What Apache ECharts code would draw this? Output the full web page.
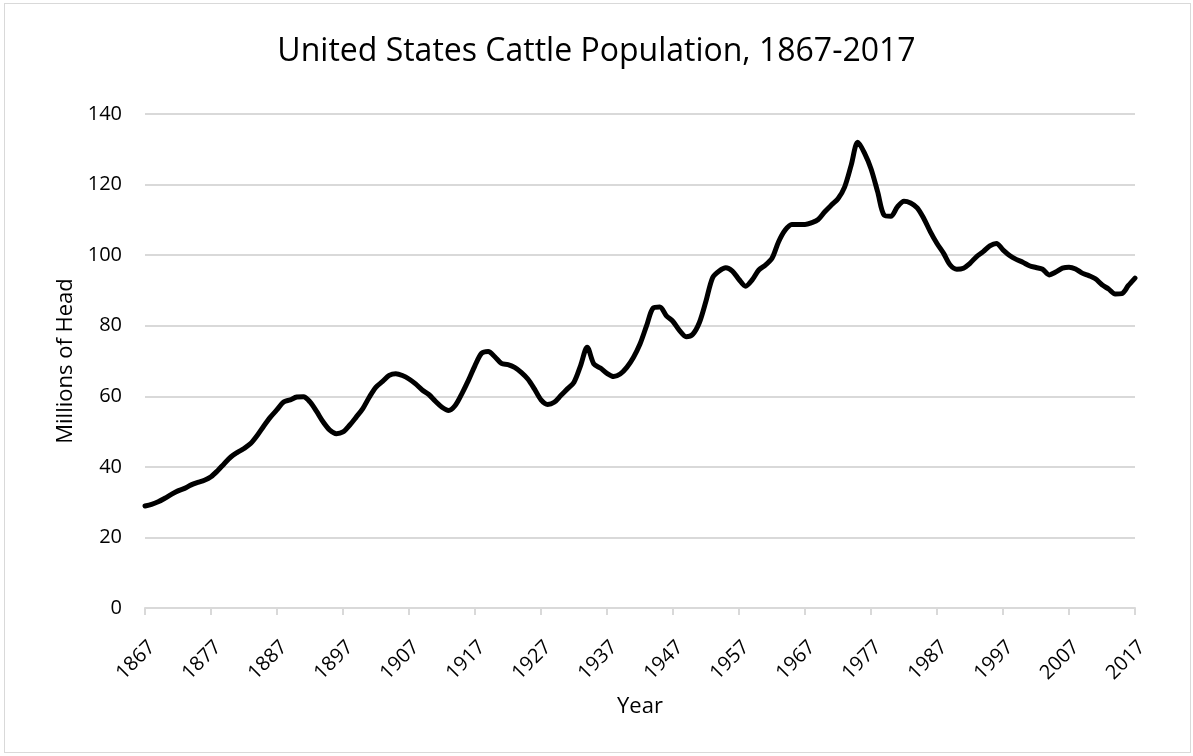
<!DOCTYPE html>
<html>
<head>
<meta charset="utf-8">
<script src="https://cdn.jsdelivr.net/npm/echarts@6/dist/echarts.min.js"></script>
<style>
  html, body { margin: 0; padding: 0; background: #fff; }
  .cattle-box {
    position: absolute;
    left: 4px;
    top: 3px;
    width: 1185px;
    height: 748px;
    border: 1px solid #d9d9d9;
  }
  .cattle-chart {
    position: absolute;
    left: 0;
    top: 0;
    width: 1193px;
    height: 756px;
  }
</style>
</head>
<body>
<div class="cattle-box"></div>
<div class="cattle-chart"></div>
<script>
// 年份（1867-2017）
const years = [];
for (let y = 1867; y <= 2017; y++) {
  years.push(String(y));
}

// 存栏量（百万头）
const cattle = [
  28.9, 29.4, 30.1,                                             // 1867-1869
  31.1, 32.2, 33.2, 33.9, 34.9, 35.6, 36.2, 37.2, 38.9, 40.9,   // 1870s
  42.8, 44.1, 45.2, 46.6, 48.9, 51.6, 54.1, 56.2, 58.4, 59.0,   // 1880s
  59.8, 59.9, 58.4, 55.7, 52.7, 50.4, 49.4, 49.9, 51.8, 54.1,   // 1890s
  56.5, 59.8, 62.6, 64.2, 65.9, 66.4, 65.9, 64.9, 63.5, 61.8,   // 1900s
  60.5, 58.6, 56.9, 56.0, 57.4, 60.7, 64.5, 68.7, 72.2, 72.7,   // 1910s
  71.2, 69.3, 69.0, 68.2, 66.8, 64.9, 62.1, 59.0, 57.7, 58.3,   // 1920s
  60.2, 62.1, 64.0, 68.7, 73.9, 69.2, 68.0, 66.5, 65.6, 66.3,   // 1930s
  68.2, 71.0, 74.8, 80.0, 85.0, 85.3, 82.8, 81.2, 78.6, 76.9,   // 1940s
  77.6, 80.9, 87.0, 93.6, 95.5, 96.4, 95.5, 93.1, 91.2, 93.0,   // 1950s
  95.8, 97.2, 99.1, 103.8, 107.1, 108.7, 108.7, 108.7, 109.2, 110.1, // 1960s
  112.3, 114.2, 116.0, 119.3, 125.5, 132.0, 129.0, 124.5, 118.0, 111.3, // 1970s
  111.0, 113.7, 115.3, 114.8, 113.4, 110.4, 106.6, 103.3, 100.5, 97.2,  // 1980s
  96.0, 96.3, 97.7, 99.6, 101.0, 102.6, 103.3, 101.5, 99.9, 98.8,      // 1990s
  98.0, 97.0, 96.5, 96.0, 94.4, 95.2, 96.3, 96.6, 96.1, 94.9,          // 2000s
  94.2, 93.3, 91.6, 90.4, 89.0, 89.1, 91.4, 93.5                       // 2010-2017
];

const chartTitle = "United States Cattle Population, 1867-2017";
const yName = "Millions of Head";
const xName = "Year";

const fontFamily = "'Open Sans', 'Noto Sans', sans-serif";

const myChart = echarts.init(document.querySelector(".cattle-chart"));
const option = {
  animation: false,
  title: {
    text: chartTitle,
    left: "center",
    top: 31,
    textStyle: {
      color: "#000",
      fontSize: 32,
      fontWeight: "normal",
      fontFamily: fontFamily,
    },
  },
  grid: {
    left: 145,
    right: 58,
    top: 114,
    bottom: 148,
  },
  xAxis: {
    type: "category",
    data: years,
    boundaryGap: false,
    name: xName,
    nameLocation: "middle",
    nameGap: 88,
    nameTextStyle: {
      color: "#000",
      fontSize: 22,
      fontFamily: fontFamily,
    },
    axisLine: {
      lineStyle: { color: "#d9d9d9", width: 2 },
    },
    axisTick: {
      interval: 9,
      length: 7,
      lineStyle: { color: "#d9d9d9", width: 2 },
    },
    axisLabel: {
      interval: 9,
      rotate: 45,
      margin: 29,
      verticalAlign: "top",
      color: "#000",
      fontSize: 20,
      fontFamily: fontFamily,
    },
    splitLine: { show: false },
  },
  yAxis: {
    type: "value",
    min: 0,
    max: 140,
    interval: 20,
    name: yName,
    nameLocation: "middle",
    nameGap: 68,
    nameTextStyle: {
      color: "#000",
      fontSize: 22,
      fontFamily: fontFamily,
    },
    axisLine: { show: false },
    axisTick: { show: false },
    axisLabel: {
      margin: 23,
      color: "#000",
      fontSize: 20,
      fontFamily: fontFamily,
    },
    splitLine: {
      lineStyle: { color: "#d9d9d9", width: 2 },
    },
  },
  series: [
    {
      name: yName,
      type: "line",
      data: cattle,
      symbol: "none",
      smooth: 0.3,
      lineStyle: { color: "#000", width: 5, cap: "round", join: "round" },
    },
  ],
};
myChart.setOption(option);
</script>
</body>
</html>
